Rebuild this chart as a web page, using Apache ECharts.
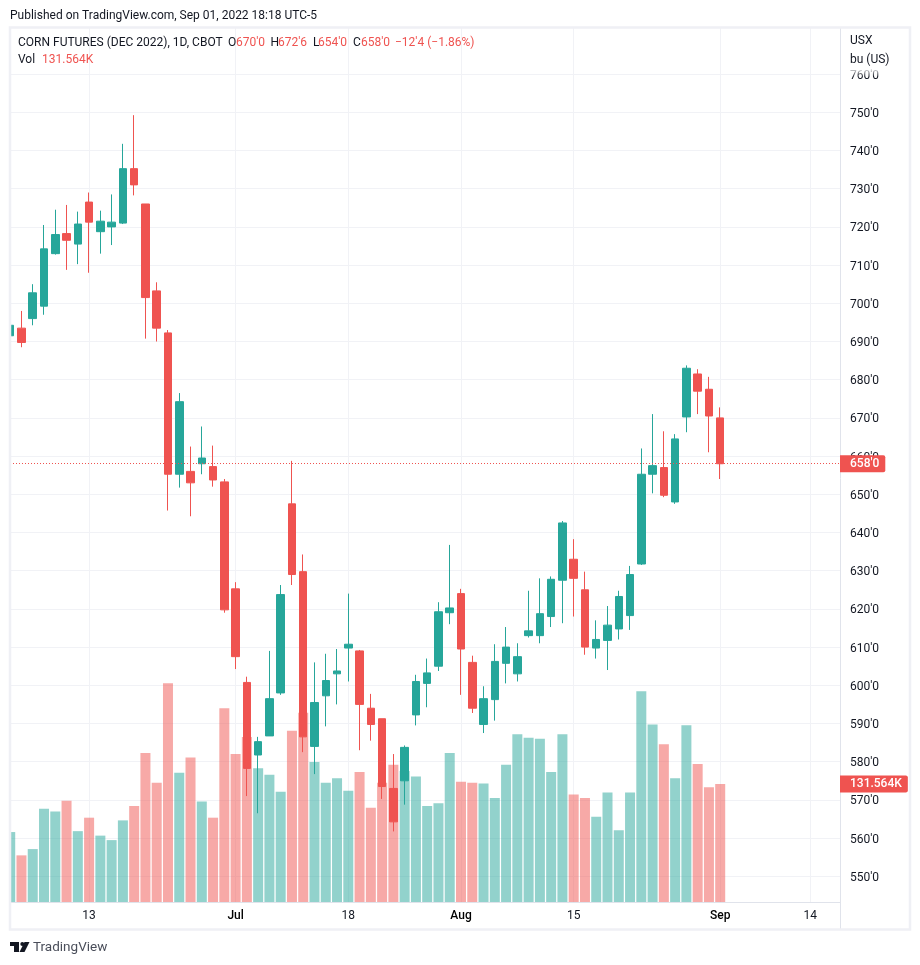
<!DOCTYPE html>
<html>
<head>
<meta charset="utf-8">
<title>Corn futures</title>
<style>
html, body { margin: 0; padding: 0; background: #fff; }
#chart { width: 920px; height: 965px; }
</style>
<script src="https://cdn.jsdelivr.net/npm/echarts@6/dist/echarts.min.js"></script>
</head>
<body>
<div id="chart"></div>
<script>
// daily candles, index 0 = 2 Jun 2022, last = 1 Sep 2022
var opens = [691.5, 693.5, 696, 699.25, 713, 718.25, 715.5, 726.5, 718.75, 720, 721, 735.25, 726, 703.25, 692.25, 655.25, 656, 658, 657.25, 653.25,
    625.25, 600.75, 581.75, 586.75, 598, 647.5, 629.75, 584, 597.25, 603, 609.75, 609, 594, 591.25, 573, 575, 592.25, 600.5, 605, 619,
    624, 606, 589.75, 596.25, 605.75, 603, 613, 613, 618, 627.5, 633, 625, 609.75, 611.75, 614.75, 618.25, 631.75, 655.25, 657, 648, 670.25, 681.5, 677.5, 670];
var closes = [694.25, 689.75, 702.75, 714.25, 718, 716.5, 720.75, 721.25, 721.5, 721.25, 735.25, 731, 701.5, 693.5, 655.25, 674.25, 653, 659.5, 653.75, 619.75,
    607.5, 578.25, 585.25, 596.5, 623.75, 629, 586.5, 595.5, 601.25, 603.75, 610.75, 595, 589.75, 573.5, 564.25, 583.75, 601, 603.25, 619.25, 620.25,
    609.5, 594, 596.5, 606.25, 610, 607.5, 614.25, 618.75, 627.75, 642.5, 628, 610, 612, 615.75, 623.25, 629, 655.25, 657.5, 649.75, 664.5, 683, 677, 670.5, 658];
var lows = [691.5, 688.5, 694.25, 697, 712.75, 708.75, 710.25, 708, 713, 715.25, 720.75, 728.25, 690.75, 690, 645.75, 651.75, 644.25, 655.25, 652, 619,
    604.25, 571, 566.5, 586.75, 597.5, 626.25, 582.5, 576.75, 589.25, 595, 601, 583, 585.5, 570.25, 561.75, 568.75, 589.5, 594.25, 603.75, 616,
    597.5, 592.75, 587.5, 590.75, 600.5, 601, 612.5, 611, 615.25, 616.25, 618, 608, 607, 604, 612, 614.5, 631.5, 650.25, 649.25, 647.5, 666.25, 671, 661, 654];
var highs = [694.25, 698, 705, 720.5, 724.5, 725.75, 724, 729, 724.25, 728.5, 741.75, 749.25, 726, 705.5, 693, 676.5, 662.5, 667.75, 662.75, 654,
    627, 602.25, 586.5, 609, 626.25, 658.75, 634.25, 606, 608.25, 609.5, 624, 609.25, 597.75, 591.25, 582, 584.25, 602.75, 607, 621.75, 636.75,
    625.25, 607.75, 599.75, 610.75, 615.25, 611, 624.75, 628, 628.5, 643, 638.25, 629.75, 617, 620.75, 624.75, 631.25, 662, 671, 666.5, 665.75, 683.75, 682.75, 680.75, 672.75];
// volume in thousands of contracts
var volumes = [78, 52, 59, 104, 101, 113, 79, 94, 74, 69, 91, 107, 166, 133, 244, 144, 161, 112, 94, 216,
    165, 184, 149, 142, 123, 191, 211, 156, 133, 138, 124, 145, 105, 133, 153, 146, 140, 107, 110, 166,
    134, 133, 132, 116, 153, 187, 183, 182, 145, 187, 120, 116, 95, 122, 80, 122, 235, 198, 176, 138, 197, 154, 128, 131.564];
var priceTicks = [550, 560, 570, 580, 590, 600, 610, 620, 630, 640, 650, 660, 670, 680, 690, 700, 710, 720, 730, 740, 750, 760];
var dateTickIndex = [7, 20, 30, 40, 50, 63, 71];
var dateTickLabels = ['13', 'Jul', '18', 'Aug', '15', 'Sep', '14'];
var monthLabels = ['Jul', 'Aug', 'Sep'];
var lastClose = 658;
var lastVolume = 131.564;
var headerRow = [
    ['CORN FUTURES (DEC 2022), 1D, CBOT', 18, 43, 0], ['O', 228, 43, 0], ["670'0", 236, 43, 1],
    ['H', 270.5, 43, 0], ["672'6", 278, 43, 1], ['L', 313, 43, 0], ["654'0", 318, 43, 1],
    ['C', 353, 43, 0], ["658'0", 361, 43, 1], ['\u221212\'4 (\u22121.86%)', 395, 43, 1],
    ['Vol', 18, 60, 0], ['131.564K', 42, 60, 1]
];

var UP = '#26a69a';
var DOWN = '#ef5350';
var TEXT = '#131722';
var FONT = 'Roboto, sans-serif';

var candleData = opens.map(function (o, i) {
    return [i, o, closes[i], lows[i], highs[i]];
});
var volumeData = volumes.map(function (v, i) {
    return {
        value: [i, v],
        itemStyle: {color: closes[i] >= opens[i] ? 'rgba(38,166,154,0.5)' : 'rgba(239,83,80,0.5)'}
    };
});

var decorations = [
    // the first candle and bar start left of the plot, hide that part
    {type: 'rect', shape: {x: 0, y: 28, width: 10, height: 880}, z: 5, style: {fill: '#fff'}},
    // frame and axis separators
    {type: 'rect', shape: {x: 10, y: 27.5, width: 900, height: 902}, z: 6,
        style: {fill: 'none', stroke: '#eff0f5', lineWidth: 2.5}},
    {type: 'line', shape: {x1: 840.5, y1: 28, x2: 840.5, y2: 929}, z: 1,
        style: {stroke: '#e0e3eb', lineWidth: 1}},
    // the unit caption covers the top of the 760 label
    {type: 'rect', shape: {x: 842, y: 30, width: 66, height: 46}, z: 20, style: {
        fill: {type: 'linear', x: 0, y: 0, x2: 0, y2: 1, colorStops: [
            {offset: 0, color: 'rgba(255,255,255,1)'},
            {offset: 0.82, color: 'rgba(255,255,255,1)'},
            {offset: 1, color: 'rgba(255,255,255,0.1)'}
        ]}
    }},
    {type: 'text', x: 850, y: 41, z: 21, style: {text: 'USX', fill: TEXT, font: '12px ' + FONT, textVerticalAlign: 'middle'}},
    {type: 'text', x: 850, y: 60, z: 21, style: {text: 'bu (US)', fill: TEXT, font: '12px ' + FONT, textVerticalAlign: 'middle'}},
    {type: 'text', x: 10, y: 16, z: 21, style: {
        text: 'Published on TradingView.com, Sep 01, 2022 18:18 UTC-5', fill: TEXT, font: '12px ' + FONT, textVerticalAlign: 'middle'
    }},
    // logo
    {type: 'polygon', z: 21, shape: {points: [[10, 942], [19, 942], [19, 952], [14, 952], [14, 946], [10, 946]]}, style: {fill: TEXT}},
    {type: 'circle', z: 21, shape: {cx: 22.3, cy: 944, r: 2}, style: {fill: TEXT}},
    {type: 'polygon', z: 21, shape: {points: [[24.5, 942], [29.5, 942], [24.5, 952], [19.5, 952]]}, style: {fill: TEXT}},
    {type: 'text', x: 33, y: 948, z: 21, style: {text: 'TradingView', fill: '#4a4e5a', font: '13.5px ' + FONT, textVerticalAlign: 'middle'}}
];
headerRow.forEach(function (h) {
    decorations.push({type: 'text', x: h[1], y: h[2], z: 21, style: {
        text: h[0], fill: h[3] ? DOWN : TEXT, font: '12px ' + FONT, textVerticalAlign: 'middle'
    }});
});

function priceTag(text) {
    return {
        show: true,
        position: 'end',
        distance: 0,
        align: 'left',
        formatter: text,
        color: '#fff',
        fontFamily: FONT,
        fontSize: 12,
        fontWeight: 500,
        lineHeight: 13,
        backgroundColor: DOWN,
        padding: [2, 6, 2, 10],
        borderRadius: [0, 2, 2, 0]
    };
}

var chart = echarts.init(document.getElementById('chart'), null, {renderer: 'canvas'});
chart.setOption({
    animation: false,
    backgroundColor: '#fff',
    textStyle: {fontFamily: FONT},
    graphic: {elements: decorations},
    grid: {left: 10, top: 28, width: 830, height: 874, containLabel: false},
    xAxis: {
        type: 'value',
        min: -0.018,
        max: 73.63,
        axisLine: {onZero: false, lineStyle: {color: '#e0e3eb'}},
        axisTick: {show: false, customValues: dateTickIndex},
        splitLine: {show: true, lineStyle: {color: '#f1f2f6'}},
        axisLabel: {
            customValues: dateTickIndex,
            margin: 8,
            color: TEXT,
            fontSize: 12,
            formatter: function (v) {
                var s = dateTickLabels[dateTickIndex.indexOf(v)];
                return monthLabels.indexOf(s) >= 0 ? '{m|' + s + '}' : s;
            },
            rich: {m: {fontWeight: 500, color: '#000', fontSize: 12}}
        }
    },
    yAxis: [{
        type: 'value',
        position: 'right',
        min: 543.27,
        max: 772.07,
        axisLine: {show: false},
        axisTick: {show: false, customValues: priceTicks},
        splitLine: {show: true, lineStyle: {color: '#f1f2f6'}},
        axisLabel: {
            customValues: priceTicks,
            margin: 10,
            align: 'left',
            color: TEXT,
            fontSize: 12,
            formatter: function (v) { return "{p|" + v + "'0}"; },
            rich: {p: {color: TEXT, fontSize: 12, padding: [3, 0, 0, 0]}}
        }
    }, {
        // volume pane shares the grid, its scale is not shown
        type: 'value',
        min: 0,
        max: 974.5,
        show: false,
        splitLine: {show: false}
    }],
    series: [{
        type: 'bar',
        name: 'Vol',
        xAxisIndex: 0,
        yAxisIndex: 1,
        barWidth: 10,
        z: 2,
        data: volumeData,
        markLine: {
            silent: true,
            symbol: 'none',
            lineStyle: {width: 0, color: 'rgba(0,0,0,0)'},
            label: priceTag('131.564K'),
            data: [{yAxis: lastVolume}]
        }
    }, {
        type: 'candlestick',
        name: 'CORN',
        xAxisIndex: 0,
        yAxisIndex: 0,
        barWidth: 8,
        z: 3,
        encode: {x: 0, y: [1, 2, 3, 4]},
        itemStyle: {color: UP, color0: DOWN, borderColor: UP, borderColor0: DOWN, borderWidth: 1},
        data: candleData,
        markLine: {
            silent: true,
            symbol: 'none',
            lineStyle: {color: DOWN, type: [1, 2], width: 1},
            label: priceTag("658'0"),
            data: [{yAxis: lastClose}]
        }
    }]
});
</script>
</body>
</html>
